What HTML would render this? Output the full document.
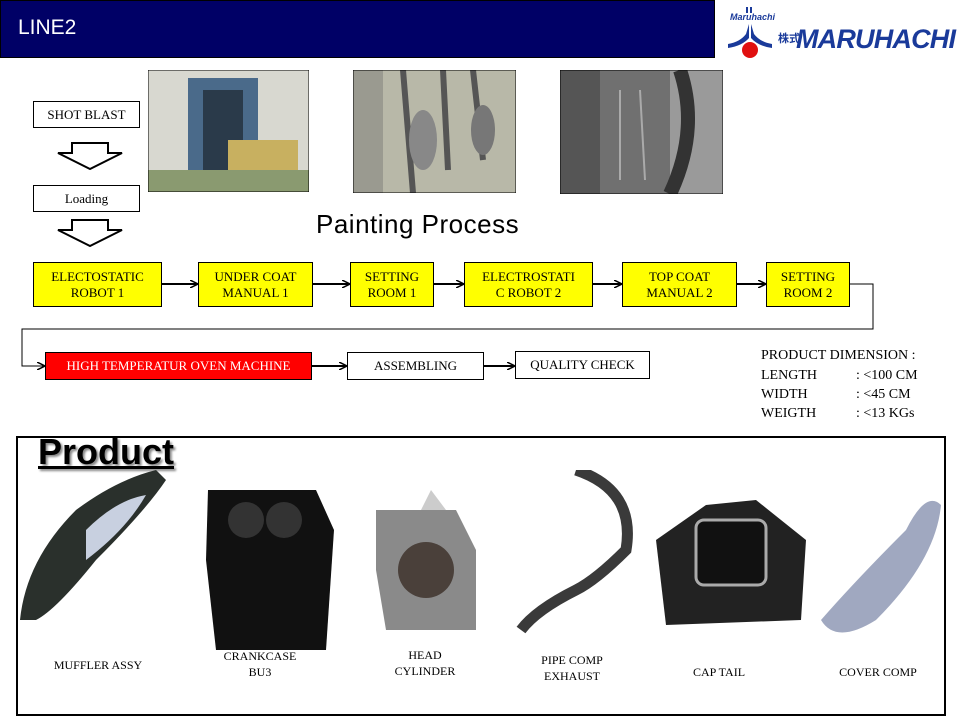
<!DOCTYPE html>
<html><head><meta charset="utf-8"><style>
body{margin:0;width:960px;height:720px;position:relative;background:#fff;overflow:hidden;font-family:"Liberation Serif",serif;}
.a{position:absolute;}
.b{position:absolute;border:1px solid #000;box-sizing:border-box;display:flex;align-items:center;justify-content:center;text-align:center;font-size:13px;line-height:16px;}
.y{background:#ffff00;}
.l{position:absolute;font-size:12px;text-align:center;line-height:16px;transform:translateX(-50%);white-space:nowrap;}
.d{position:absolute;font-size:14px;white-space:nowrap;}
</style></head><body>
<div class="a" style="left:0;top:0;width:715px;height:58px;background:#000066;border:1px solid #000;box-sizing:border-box;"></div>
<div class="a" style="left:18px;top:16px;color:#fff;font-family:'Liberation Sans',sans-serif;font-size:21px;">LINE2</div>
<svg class="a" style="left:722px;top:4px" width="236" height="56">
<text x="8" y="16" font-family="Liberation Sans" font-style="italic" font-weight="bold" font-size="9" fill="#1a3a9a">Maruhachi</text>
<rect x="24" y="3" width="2" height="6" fill="#1a3a9a"/><rect x="28" y="3" width="2" height="6" fill="#1a3a9a"/>
<path d="M27 20 L27 34 Q20 42 6 44 L6 40 Q18 38 24 30 Z M29 20 L29 34 Q36 42 50 44 L50 40 Q38 38 32 30 Z" fill="#1a3a9a"/>
<circle cx="28" cy="46" r="8" fill="#e01010"/>
<text x="56" y="38" font-family="Noto Sans CJK JP" font-weight="bold" font-size="11" fill="#1a3a9a">株式</text>
<text x="74" y="44" font-family="Liberation Sans" font-style="italic" font-weight="bold" font-size="27" fill="#1a3a9a" textLength="160">MARUHACHI</text>
</svg>
<svg class="a" style="left:148px;top:70px" width="161" height="122"><rect width="161" height="122" fill="#d8d8d0"/><rect x="40" y="8" width="70" height="100" fill="#4a6a8a"/><rect x="55" y="20" width="40" height="80" fill="#2a3a4a"/><rect x="80" y="70" width="70" height="40" fill="#c8b060"/><rect x="0" y="100" width="161" height="22" fill="#8a9a70"/><rect x="0" y="0" width="161" height="122" fill="none" stroke="#000"/></svg>
<svg class="a" style="left:353px;top:70px" width="163" height="123"><rect width="163" height="123" fill="#b8b8a8"/><rect x="0" y="0" width="30" height="123" fill="#9a9a90"/><path d="M50 0 L60 123 M90 0 L95 100 M120 0 L130 90" stroke="#555" stroke-width="6"/><ellipse cx="70" cy="70" rx="14" ry="30" fill="#888"/><ellipse cx="130" cy="60" rx="12" ry="25" fill="#777"/><rect width="163" height="123" fill="none" stroke="#000"/></svg>
<svg class="a" style="left:560px;top:70px" width="163" height="124"><rect width="163" height="124" fill="#707070"/><rect x="0" y="0" width="40" height="124" fill="#555"/><rect x="110" y="0" width="53" height="124" fill="#9a9a9a"/><path d="M120 0 Q140 60 110 124" stroke="#333" stroke-width="14" fill="none"/><path d="M60 20 L60 110 M80 20 L85 110" stroke="#aaa" stroke-width="2"/><rect width="163" height="124" fill="none" stroke="#000"/></svg>
<div class="b" style="left:33px;top:101px;width:107px;height:27px;">SHOT BLAST</div>
<svg class="a" style="left:56px;top:142px" width="70" height="28"><path d="M16 1 H52 V11 H66 L34 27 L2 11 H16 Z" fill="#fff" stroke="#000" stroke-width="2"/></svg>
<div class="b" style="left:33px;top:185px;width:107px;height:27px;">Loading</div>
<svg class="a" style="left:56px;top:219px" width="70" height="28"><path d="M16 1 H52 V11 H66 L34 27 L2 11 H16 Z" fill="#fff" stroke="#000" stroke-width="2"/></svg>
<div class="a" style="left:316px;top:209px;font-family:'Liberation Sans',sans-serif;font-size:26px;letter-spacing:0.5px;">Painting Process</div>
<svg class="a" style="left:0;top:0" width="960" height="400">
<defs><marker id="m" markerWidth="8" markerHeight="8" refX="7" refY="4" orient="auto" markerUnits="userSpaceOnUse"><path d="M0 0 L8 4 L0 8" fill="none" stroke="#000" stroke-width="1.5"/></marker></defs>
<g stroke="#000" stroke-width="2" fill="none" marker-end="url(#m)">
<line x1="162" y1="284" x2="197" y2="284"/><line x1="313" y1="284" x2="349" y2="284"/><line x1="434" y1="284" x2="463" y2="284"/><line x1="593" y1="284" x2="621" y2="284"/><line x1="737" y1="284" x2="765" y2="284"/>
<line x1="312" y1="366" x2="346" y2="366"/><line x1="484" y1="366" x2="514" y2="366"/>
</g>
<polyline points="850,284 873,284 873,329 22,329 22,366 44,366" fill="none" stroke="#000" stroke-width="1" marker-end="url(#m)"/>
</svg>
<div class="b y" style="left:33px;top:262px;width:129px;height:45px;">ELECTOSTATIC<br>ROBOT 1</div>
<div class="b y" style="left:198px;top:262px;width:115px;height:45px;">UNDER COAT<br>MANUAL 1</div>
<div class="b y" style="left:350px;top:262px;width:84px;height:45px;">SETTING<br>ROOM 1</div>
<div class="b y" style="left:464px;top:262px;width:129px;height:45px;">ELECTROSTATI<br>C ROBOT 2</div>
<div class="b y" style="left:622px;top:262px;width:115px;height:45px;">TOP COAT<br>MANUAL 2</div>
<div class="b y" style="left:766px;top:262px;width:84px;height:45px;">SETTING<br>ROOM 2</div>
<div class="b" style="left:45px;top:352px;width:267px;height:28px;background:#f00;color:#fff;">HIGH TEMPERATUR OVEN MACHINE</div>
<div class="b" style="left:347px;top:352px;width:137px;height:28px;">ASSEMBLING</div>
<div class="b" style="left:515px;top:351px;width:135px;height:28px;">QUALITY CHECK</div>
<div class="d" style="left:761px;top:348px;">PRODUCT DIMENSION :</div>
<div class="d" style="left:761px;top:368px;">LENGTH</div><div class="d" style="left:856px;top:368px;">: &lt;100 CM</div>
<div class="d" style="left:761px;top:387px;">WIDTH</div><div class="d" style="left:856px;top:387px;">: &lt;45 CM</div>
<div class="d" style="left:761px;top:406px;">WEIGTH</div><div class="d" style="left:856px;top:406px;">: &lt;13 KGs</div>
<div class="a" style="left:16px;top:436px;width:930px;height:280px;border:2px solid #000;box-sizing:border-box;"></div>
<div class="a" style="left:38px;top:431px;font-family:'Liberation Sans',sans-serif;font-weight:bold;font-size:36px;text-decoration:underline;text-shadow:2px 2px 2px #888;">Product</div>
<svg class="a" style="left:16px;top:470px" width="930" height="180">
<path d="M4 150 Q10 90 60 40 Q100 10 140 0 L150 10 Q130 40 80 90 Q40 140 20 150 Z" fill="#2a302c"/>
<path d="M70 60 Q100 30 130 25 Q110 60 70 90 Z" fill="#c8d0e0"/>
<path d="M192 20 L300 20 L318 60 L310 180 L200 180 L190 90 Z" fill="#111"/>
<circle cx="230" cy="50" r="18" fill="#333"/><circle cx="268" cy="50" r="18" fill="#333"/>
<path d="M360 40 L440 40 L460 80 L460 160 L370 160 L360 100 Z" fill="#8a8a8a"/>
<circle cx="410" cy="100" r="28" fill="#4a403a"/><path d="M415 20 L430 40 L405 40 Z" fill="#ccc"/>
<path d="M560 0 Q620 20 610 80 Q580 110 560 120 Q520 140 505 160" stroke="#3a3a3a" stroke-width="11" fill="none"/>
<path d="M640 70 L690 35 L740 30 L790 70 L785 150 L650 155 Z" fill="#222"/>
<rect x="680" y="50" width="70" height="65" rx="8" fill="#111" stroke="#aaa" stroke-width="3"/>
<path d="M890 60 Q910 20 925 35 Q920 90 860 150 Q820 175 805 150 Q840 110 890 60 Z" fill="#a0a8c0"/>
</svg>
<div class="l" style="left:98px;top:657px;">MUFFLER ASSY</div>
<div class="l" style="left:260px;top:648px;">CRANKCASE<br>BU3</div>
<div class="l" style="left:425px;top:647px;">HEAD<br>CYLINDER</div>
<div class="l" style="left:572px;top:652px;">PIPE COMP<br>EXHAUST</div>
<div class="l" style="left:719px;top:664px;">CAP TAIL</div>
<div class="l" style="left:878px;top:664px;">COVER COMP</div>
</body></html>
